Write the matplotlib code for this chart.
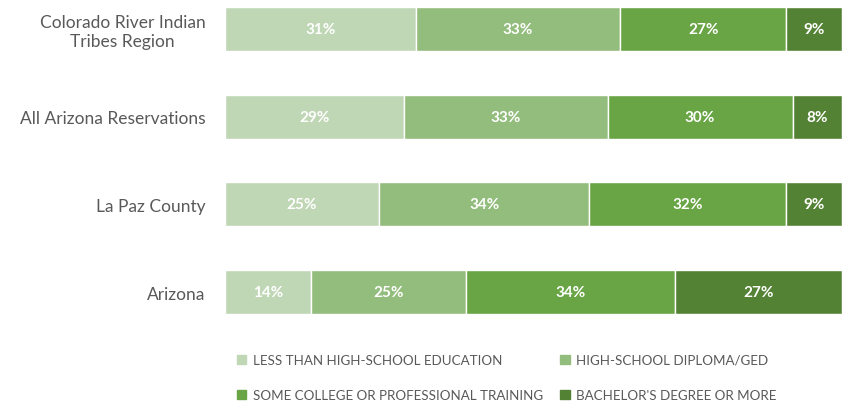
import numpy as np
import matplotlib.pyplot as plt
from matplotlib.patches import Patch

plt.rcParams['font.family'] = ['Lato', 'DejaVu Sans']

# data
regions = ['Colorado River Indian\nTribes Region', 'All Arizona Reservations', 'La Paz County', 'Arizona']
less_than_hs = [31, 29, 25, 14]
hs_diploma = [33, 33, 34, 25]
some_college = [27, 30, 32, 34]
bachelors = [9, 8, 9, 27]

series = [less_than_hs, hs_diploma, some_college, bachelors]
names = ['LESS THAN HIGH-SCHOOL EDUCATION', 'HIGH-SCHOOL DIPLOMA/GED',
         'SOME COLLEGE OR PROFESSIONAL TRAINING', "BACHELOR'S DEGREE OR MORE"]
colors = ['#c0d7b6', '#93bd7d', '#69a545', '#548235']

fig = plt.figure(figsize=(8.43, 4.06), dpi=100)
ax = fig.add_axes([225 / 843, (406 - 315) / 406, 617 / 843, 307 / 406])

y = np.arange(len(regions))
left = np.zeros(len(regions))
for vals, c in zip(series, colors):
    vals = np.array(vals, dtype=float)
    ax.barh(y, vals, left=left, height=0.5, color=c, edgecolor='white', linewidth=1)
    for yi, l, v in zip(y, left, vals):
        ax.text(l + v / 2, yi, f'{int(v)}%', ha='center', va='center',
                color='white', fontsize=11, fontweight='bold')
    left += vals

ax.set_xlim(0, 100)
ax.set_ylim(3.25, -0.25)
ax.set_yticks(y)
ax.set_yticklabels(regions, fontsize=12.5, color='#595959')
ax.tick_params(axis='y', length=0, pad=14)
ax.set_xticks([])
for s in ax.spines.values():
    s.set_visible(False)
for lab in ax.get_yticklabels():
    lab.set_horizontalalignment('right')
    lab.set_multialignment('center')

handles = [Patch(color=c, label=n) for c, n in zip(colors, names)]
order = [0, 2, 1, 3]
fig.legend([handles[i] for i in order], [names[i] for i in order],
           ncol=2, loc='upper left', bbox_to_anchor=(225 / 843, 1 - 343 / 406),
           frameon=False, fontsize=9.6, labelcolor='#595959',
           handlelength=0.7, handleheight=0.7, handletextpad=0.5,
           columnspacing=1.3, labelspacing=1.75)

fig.savefig('out.png', dpi=100)
